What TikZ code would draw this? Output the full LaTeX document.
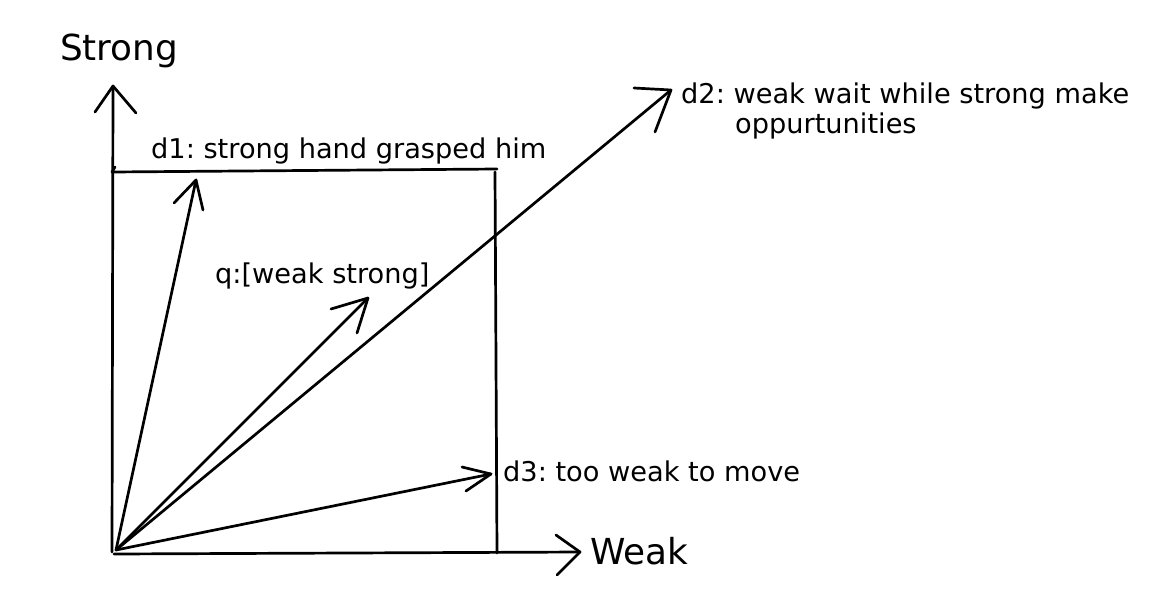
\documentclass[tikz,border=0pt]{standalone}
\usepackage{fontspec}
\setmainfont{DejaVu Sans}
\frenchspacing
\begin{document}
\begin{tikzpicture}[x=1pt,y=-1pt,
  ink/.style={line width=2.7pt,line cap=round,line join=round},
  big/.style={font=\fontsize{35.8}{40}\selectfont,inner sep=0pt,anchor=base west},
  lbl/.style={font=\fontsize{27.2}{30}\selectfont,inner sep=0pt,anchor=base west,align=left}]
\useasboundingbox (0,0) rectangle (1151,606);
% coordinates
\coordinate (O) at (116,550);
\coordinate (ytip) at (113,86);
\coordinate (xtip) at (580,552);
\coordinate (d1tip) at (196,180);
\coordinate (qtip) at (368,298);
\coordinate (d2tip) at (671,90);
\coordinate (d3tip) at (491,474);
\coordinate (bl) at (114,554);
\coordinate (tl) at (112,172);
\coordinate (tr) at (497,169);
\coordinate (rt) at (495,172);
\coordinate (rb) at (497,553);
% axes
\draw[ink] (112,552) -- (ytip);
\draw[ink] (95,112) -- (ytip) -- (136,113);
\draw[ink] (bl) -- (xtip);
\draw[ink] (556,535) -- (xtip) -- (557,575);
% box
\draw[ink] (tl) -- (tr);
\draw[ink] (rt) -- (rb);
\draw[ink] (112,172) -- (115,167);
% vectors
\draw[ink] (O) -- (d1tip);
\draw[ink] (174,203) -- (d1tip) -- (203,210);
\draw[ink] (O) -- (qtip);
\draw[ink] (331,309) -- (qtip) -- (357,333);
\draw[ink] (O) -- (d2tip);
\draw[ink] (634,88) -- (d2tip) -- (655,132);
\draw[ink] (O) -- (d3tip);
\draw[ink] (462,467) -- (d3tip) -- (466,491);
% labels
\node[big] (strong) at (60,60) {Strong};
\node[big] (weak) at (590,564) {Weak};
\node[lbl] (d1) at (151,158) {d1: strong hand grasped him};
\node[lbl] (q) at (215,283) {q:[weak strong]};
\node[lbl] (d2) at (681,133) {d2: weak wait while strong make\\\hspace*{54pt}oppurtunities};
\node[lbl] (d3) at (503,481) {d3: too weak to move};
\end{tikzpicture}
\end{document}
